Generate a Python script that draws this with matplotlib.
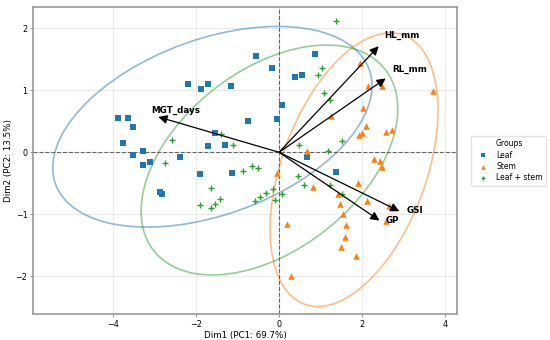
import numpy as np
import matplotlib.pyplot as plt
from matplotlib.patches import Ellipse

# PCA scores per group (Dim1, Dim2)
leaf_x = [-2.19, -1.89, -1.72, -1.17, -3.87, -3.64, -3.52, -3.75, -1.54, -1.71,
          -1.30, -3.51, -3.27, -2.38, -3.29, -3.12, -1.91, -1.14, -2.87, -2.81,
          -0.56, -0.18, 0.86, 0.39, 0.55, 0.07, -0.76, -0.04, 0.67, 1.38]
leaf_y = [1.10, 1.02, 1.10, 1.07, 0.55, 0.55, 0.40, 0.15, 0.31, 0.10,
          0.11, -0.05, 0.02, -0.08, -0.21, -0.16, -0.35, -0.34, -0.64, -0.68,
          1.56, 1.36, 1.58, 1.21, 1.25, 0.76, 0.50, 0.54, -0.08, -0.32]

stem_x = [1.94, 2.14, 2.47, 3.72, 2.02, 1.26, 2.09, 1.92, 2.01, 2.57,
          2.73, 0.67, 2.28, 2.44, 2.49, -0.04, 0.83, 1.90, 1.41, 2.12,
          1.47, 2.66, 1.54, 2.58, 0.19, 1.62, 1.58, 1.49, 1.85, 0.28]
stem_y = [1.44, 1.07, 1.07, 0.98, 0.72, 0.59, 0.42, 0.28, 0.31, 0.32,
          0.36, 0.02, -0.11, -0.14, -0.23, -0.33, -0.56, -0.49, -0.68, -0.78,
          -0.83, -0.87, -1.00, -1.10, -1.15, -1.17, -1.37, -1.53, -1.68, -1.99]

ls_x = [1.38, 1.03, 0.94, 1.08, 1.24, 1.51, 0.48, 1.19, -1.12, -2.59,
        -1.41, -2.76, -1.65, -1.43, -1.55, -1.90, -1.63, -0.88, -0.64, -0.50,
        0.46, 0.59, 1.22, 1.51, -0.14, -0.32, -0.45, -0.58, 0.07, -0.09]
ls_y = [2.11, 1.36, 1.24, 0.95, 0.84, 0.18, 0.11, 0.02, 0.11, 0.20,
        0.30, -0.18, -0.57, -0.76, -0.83, -0.85, -0.90, -0.30, -0.22, -0.25,
        -0.39, -0.52, -0.52, -0.67, -0.59, -0.66, -0.72, -0.78, -0.68, -0.77]

# variable loadings (arrow tips)
var_names = ["HL_mm", "RL_mm", "MGT_days", "GSI", "GP"]
load_x = [2.40, 2.57, -2.91, 2.90, 2.42]
load_y = [1.71, 1.19, 0.57, -0.95, -1.10]

groups = ["Leaf", "Stem", "Leaf + stem"]
colors = ["#1f77b4", "#ff7f0e", "#2ca02c"]
markers = ["s", "^", "+"]


def conf_ellipse(ax, x, y, color, n_std=2.4477):
    # 95% confidence ellipse from the group covariance
    x = np.asarray(x)
    y = np.asarray(y)
    cov = np.cov(x, y)
    vals, vecs = np.linalg.eigh(cov)
    order = vals.argsort()[::-1]
    vals, vecs = vals[order], vecs[:, order]
    angle = np.degrees(np.arctan2(vecs[1, 0], vecs[0, 0]))
    w, h = 2 * n_std * np.sqrt(vals)
    e = Ellipse((x.mean(), y.mean()), w, h, angle=angle, facecolor="none",
                edgecolor=color, alpha=0.5, lw=1.2)
    ax.add_patch(e)


fig = plt.figure(figsize=(5.5, 3.4), dpi=100)
ax = fig.add_axes([0.06, 0.076, 0.771, 0.903])

data = [(leaf_x, leaf_y), (stem_x, stem_y), (ls_x, ls_y)]
for (x, y), g, c, m in zip(data, groups, colors, markers):
    if m == "+":
        ax.scatter(x, y, marker=m, color=c, s=20, lw=1, label=g, zorder=3)
    else:
        ax.scatter(x, y, marker=m, color=c, s=22, lw=0, label=g, zorder=3)
    conf_ellipse(ax, x, y, c)

ax.axhline(0, color="#666666", ls="--", lw=0.8, zorder=1)
ax.axvline(0, color="#666666", ls="--", lw=0.8, zorder=1)

for name, lx, ly in zip(var_names, load_x, load_y):
    ax.annotate("", xy=(lx, ly), xytext=(0, 0),
                arrowprops=dict(arrowstyle="-|>", color="black", lw=0.9,
                                mutation_scale=13, shrinkA=0, shrinkB=0),
                zorder=4)
    ax.text(lx * 1.06, ly * 1.06, name, fontsize=6.3, fontweight="bold",
            ha="left", va="bottom", zorder=5)

ax.set_xlim(-5.93, 4.29)
ax.set_ylim(-2.61, 2.34)
ax.set_xticks([-4, -2, 0, 2, 4])
ax.set_yticks([-2, -1, 0, 1, 2])
ax.grid(True, color="#e8e8e8", lw=0.6)
ax.set_axisbelow(True)
for s in ax.spines.values():
    s.set_color("#999999")
    s.set_linewidth(1.2)
ax.tick_params(labelsize=5.8, color="#999999", length=2, pad=2)

ax.set_xlabel("Dim1 (PC1: 69.7%)", fontsize=6.3, labelpad=2)
ax.set_ylabel("Dim2 (PC2: 13.5%)", fontsize=6.3, labelpad=1.5)

ax.legend(title="Groups", loc="center left", bbox_to_anchor=(1.025, 0.5),
          fontsize=5.5, title_fontsize=5.5, markerscale=0.7, handletextpad=0.8,
          labelspacing=0.3, borderpad=0.45, frameon=True, edgecolor="#dddddd")

fig.savefig("out.png", dpi=100)
